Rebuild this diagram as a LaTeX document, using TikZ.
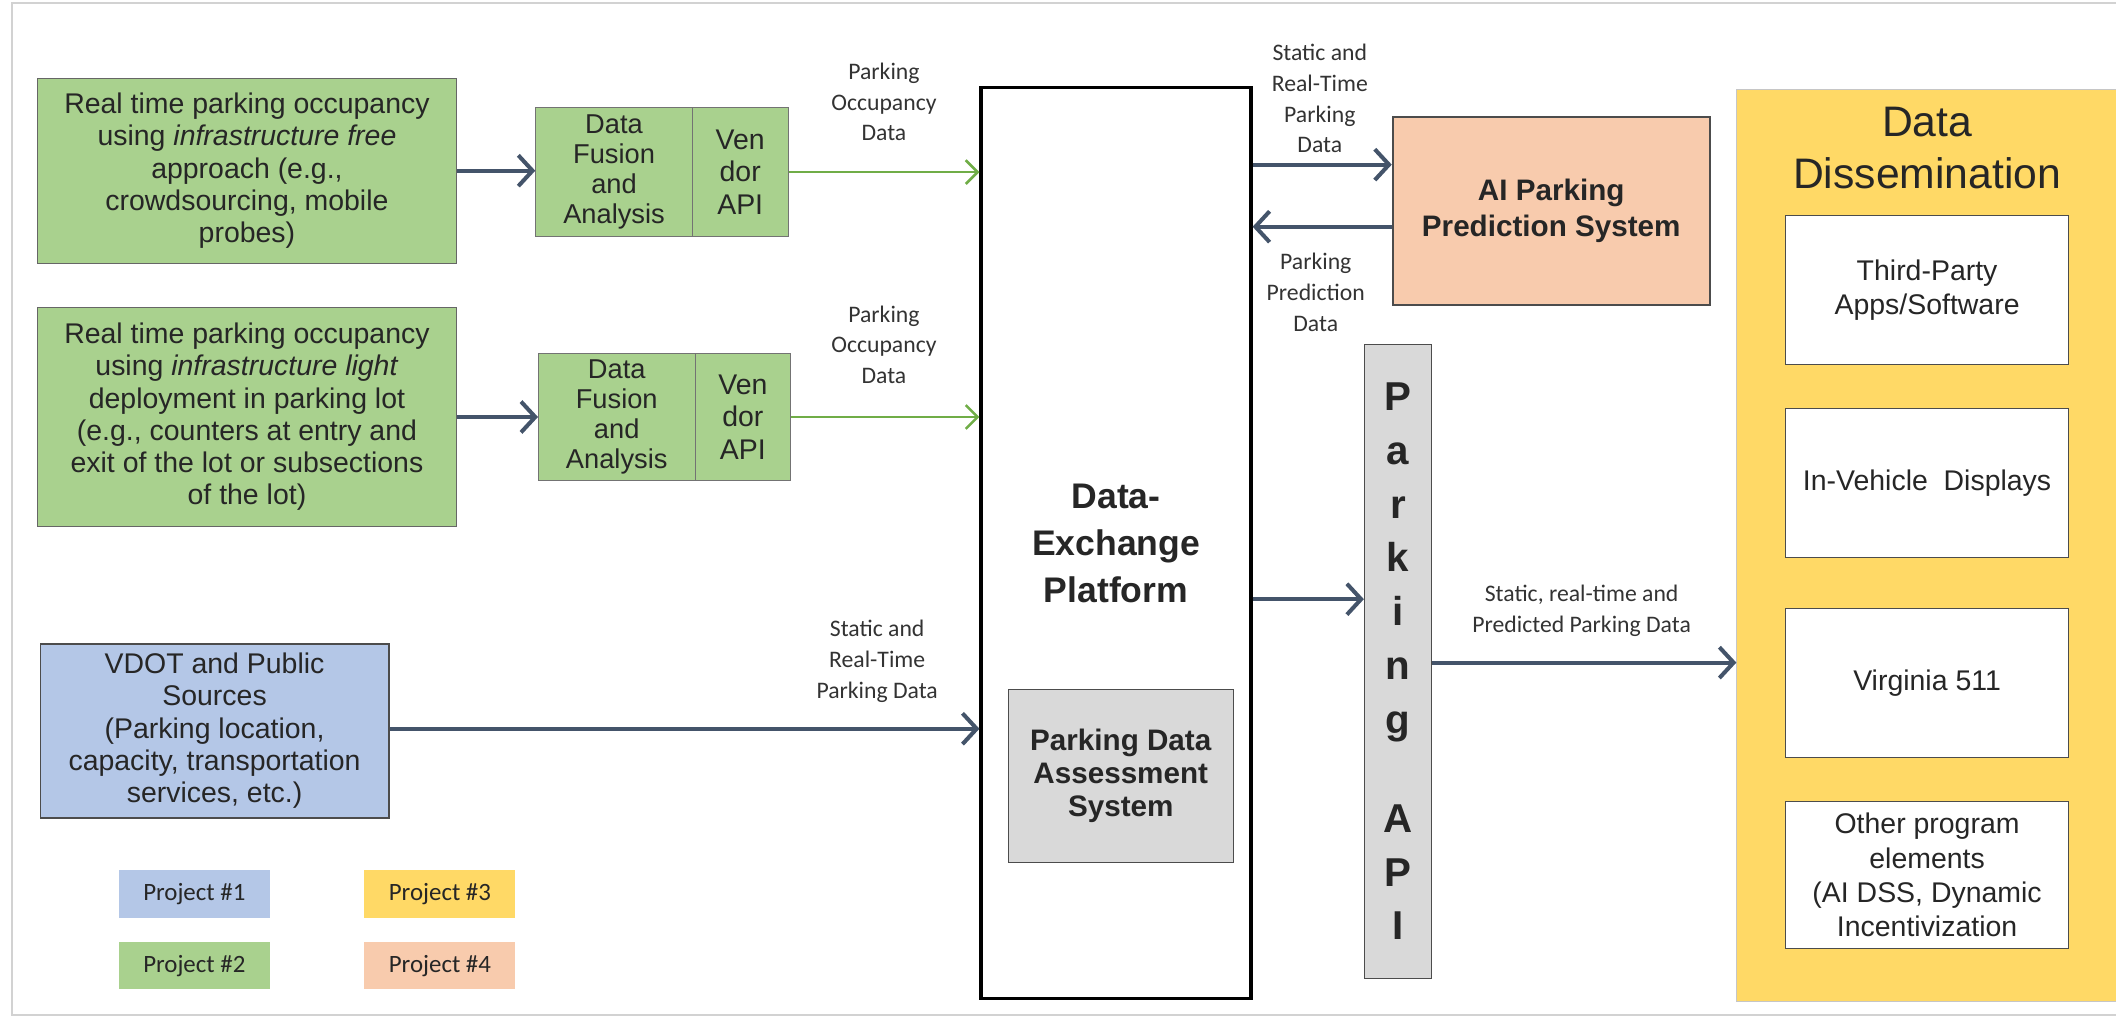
\documentclass[tikz,border=0pt]{standalone}
\usepackage{fontspec}
\setmainfont{Liberation Sans}
\newfontfamily\calfont{Carlito}
\usetikzlibrary{arrows.meta}
\definecolor{pgreen}{HTML}{A9D18E}
\definecolor{pblue}{HTML}{B4C7E7}
\definecolor{pyellow}{HTML}{FFD966}
\definecolor{ppeach}{HTML}{F8CBAD}
\definecolor{pgray}{HTML}{D9D9D9}
\definecolor{slate}{HTML}{44546A}
\definecolor{agreen}{HTML}{70AD47}
\begin{document}
\begin{tikzpicture}[x=0.02cm,y=-0.02cm,
  box/.style={rectangle, inner sep=0pt, align=center, text=black!85},
  tx/.style={font=\fontsize{12}{13.6}\selectfont},
  fus/.style={font=\fontsize{11.5}{12.6}\selectfont},
  wtx/.style={font=\fontsize{12}{14.5}\selectfont},
  lbl/.style={align=center, inner sep=0pt, text=black!80, font=\calfont\fontsize{10}{13}\selectfont},
  leg/.style={rectangle, inner sep=0pt, text=black!85, minimum width=2.24cm, minimum height=0.7cm, font=\calfont\fontsize{10.5}{12}\selectfont},
  darr/.style={draw=slate, line width=1.7pt, -{Straight Barb[length=6pt,width=13pt]}},
  garr/.style={draw=agreen, line width=1.1pt, -{Straight Barb[length=5pt,width=10pt]}}
]
\useasboundingbox (0,0) rectangle (1568,757);
% page frame
\draw[gray!35, line width=0.8pt] (1568,2) -- (9,2) -- (9,752) -- (1568,752);

% left sources
\node[box, tx, draw=black!60, fill=pgreen, minimum width=6.2cm, minimum height=2.74cm] (g1) at (183,126.5)
  {Real time parking occupancy\\using \textit{infrastructure free}\\approach (e.g.,\\crowdsourcing, mobile\\probes)};
\node[box, fus, draw=black!55, fill=pgreen, minimum width=2.32cm, minimum height=1.9cm] (f1) at (455,127.5)
  {Data\\Fusion\\and\\Analysis};
\node[box, tx, draw=black!55, fill=pgreen, minimum width=1.42cm, minimum height=1.9cm] (v1) at (548.5,127.5)
  {Ven\\dor\\API};

\node[box, tx, draw=black!60, fill=pgreen, minimum width=6.2cm, minimum height=3.24cm] (g2) at (183,309)
  {Real time parking occupancy\\using \textit{infrastructure light}\\deployment in parking lot\\(e.g., counters at entry and\\exit of the lot or subsections\\of the lot)};
\node[box, fus, draw=black!55, fill=pgreen, minimum width=2.32cm, minimum height=1.88cm] (f2) at (457,309)
  {Data\\Fusion\\and\\Analysis};
\node[box, tx, draw=black!55, fill=pgreen, minimum width=1.42cm, minimum height=1.88cm] (v2) at (550.5,309)
  {Ven\\dor\\API};

\node[box, tx, draw=black!70, line width=0.8pt, fill=pblue, minimum width=5.16cm, minimum height=2.58cm] (vd) at (159,541.5)
  {VDOT and Public\\Sources\\(Parking location,\\capacity, transportation\\services, etc.)};

% legend
\node[leg, fill=pblue] (l1) at (144,662.5) {Project \#1};
\node[leg, fill=pyellow] (l3) at (326,662.5) {Project \#3};
\node[leg, fill=pgreen] (l2) at (144,715.5) {Project \#2};
\node[leg, fill=ppeach] (l4) at (326,715.5) {Project \#4};

% data exchange platform
\node[box, draw=black, line width=1.4pt, fill=white, minimum width=4.0cm, minimum height=13.5cm,
  font=\bfseries\fontsize{15}{19.8}\selectfont] (dep) at (827,402.5) {Data-\\Exchange\\Platform};
\node[box, draw=black!70, fill=pgray, minimum width=3.34cm, minimum height=2.56cm,
  font=\bfseries\fontsize{12.5}{14}\selectfont] (pdas) at (830.5,575) {Parking Data\\Assessment\\System};

% AI prediction
\node[box, draw=black!70, line width=0.8pt, fill=ppeach, minimum width=4.7cm, minimum height=2.78cm,
  font=\bfseries\fontsize{12.5}{15.3}\selectfont] (ai) at (1149.5,156.5) {AI Parking\\Prediction System};

% parking API
\node[box, draw=black!70, fill=pgray, minimum width=1.0cm, minimum height=9.4cm,
  font=\bfseries\fontsize{17}{22.7}\selectfont] (papi) at (1036,490)
  {P\\a\\r\\k\\i\\n\\g\\[19pt]A\\P\\I};

% data dissemination
\node[box, draw=gray!45, fill=pyellow, minimum width=5.62cm, minimum height=13.52cm] (dd) at (1427.5,404) {};
\node[box, font=\fontsize{18}{22}\selectfont] (ddt) at (1428,110) {Data\\Dissemination};
\node[box, wtx, draw=black!70, fill=white, minimum width=4.2cm, minimum height=2.2cm] (w1) at (1428,215) {Third-Party\\Apps/Software};
\node[box, wtx, draw=black!70, fill=white, minimum width=4.2cm, minimum height=2.2cm] (w2) at (1428,358) {In-Vehicle\ \ Displays};
\node[box, wtx, draw=black!70, fill=white, minimum width=4.2cm, minimum height=2.2cm] (w3) at (1428,506) {Virginia 511};
\node[box, wtx, draw=black!70, fill=white, minimum width=4.2cm, minimum height=2.18cm] (w4) at (1428,648.5) {Other program\\elements\\(AI DSS, Dynamic\\Incentivization};

% helper coordinates
\coordinate (y122) at (0,122);
\coordinate (y168) at (0,168);
\coordinate (y444) at (0,444);
\coordinate (y491) at (0,491);
\coordinate (y540) at (0,540);

% connectors
\draw[darr] (g1.east) -- (g1.east -| f1.west);
\draw[garr] (v1.east) -- (v1.east -| dep.west);
\draw[darr] (g2.east) -- (g2.east -| f2.west);
\draw[garr] (v2.east) -- (v2.east -| dep.west);
\draw[darr] (vd.east |- y540) -- (dep.west |- y540);
\draw[darr] (dep.east |- y122) -- (ai.west |- y122);
\draw[darr] (ai.west |- y168) -- (dep.east |- y168);
\draw[darr] (dep.east |- y444) -- (papi.west |- y444);
\draw[darr] (papi.east |- y491) -- (dd.west |- y491);

% connector labels
\node[lbl] (t1) at (655,75.5) {Parking\\Occupancy\\Data};
\node[lbl] (t2) at (655,255.5) {Parking\\Occupancy\\Data};
\node[lbl] (t3) at (650,490) {Static and\\Real-Time\\Parking Data};
\node[lbl] (t4) at (978,73) {Static and\\Real-Time\\Parking\\Data};
\node[lbl] (t5) at (975,216.5) {Parking\\Prediction\\Data};
\node[lbl] (t6) at (1172,452.5) {Static, real-time and\\Predicted Parking Data};
\end{tikzpicture}
\end{document}
